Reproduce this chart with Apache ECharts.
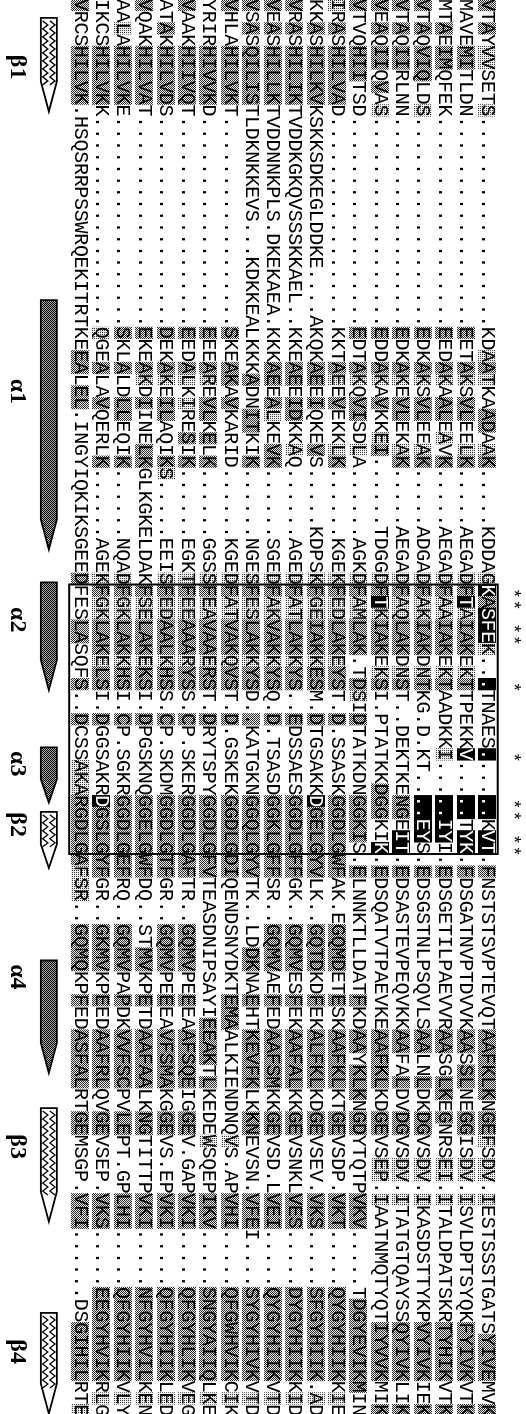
<!DOCTYPE html>
<html><head><meta charset="utf-8">
<script src="https://cdn.jsdelivr.net/npm/echarts@6/dist/echarts.min.js"></script>
<style>html,body{margin:0;padding:0;background:#fff}#c{width:526px;height:1414px}</style>
</head><body><div id="c"></div>
<script>
// ================= DATA =================
const D18 = "..................";
// aligned sequences, one per column (right = first), 121 alignment positions each
const sequences = [
 "VTAYVVSETS"+D18+"KDAATKAADAAK"+".....KDDAG"+"KASFEK...T"+"NAES......KVT"+".FNSTSTS"+"VPTEVQTAAFKLKNGEFS"+"DV.IESTSSSTGATSYIVEMVK",
 "MAVEMITLDN"+D18+"EETAKSVLEELK"+".....AEGAD"+"FTAIAKEKTT"+"PEKKV.....TYK"+".FDSGATN"+"VPTDVVKAASSLNEGGIS"+"DV.ISVLDPTSYQKFYIVKVTK",
 "MTAEIMQFEK"+D18+"EEDAKAALEAVK"+".....AEGAD"+"FAAIAKEKTA"+"ADKKI.....IYI"+".EDSGETI"+"LPAEVVRAASGLKEGNRS"+"EI.ITALDPATSKRTYHIKVTK",
 "VTAQVIQLDS"+D18+"EDKAKSVLEEAK"+".....ADGAD"+"FAKIAKDNTK"+"G.D.KT....EYS"+".EDSGSTN"+"LPSQVLSAALNLDKDGVS"+"DV.IKASDSTTYKPVYIVKIEK",
 "VTAQIIRLNN"+D18+"EDKAKEVLEKAK"+".....AEGAD"+"FAQLAKDNST"+"..DEKTKENGEIT"+".EDSASTE"+"VPEQVKKAAFALDVDGVS"+"DV.ITATGTQAYSSQYIVKLIK",
 "VEAQIIQVAS"+D18+"EDDAKAVKKEI."+".....TDGGD"+"FTKIAKEKSI"+".PTATKKDGGKIK"+".EDSQATV"+"TPAEVKEAAFKLKDGEVS"+"EP.IAATNMQTYQTIYVVKMIK",
 "VTVQHIITSD"+D18+"EDTAKQVISDLA"+"......AGKD"+"FAMLAK.TDS"+"IDTATKDNGGKIS"+".ELNNKTL"+"LDATFKDAAYKLKNGDYT"+"QTPVKV.....TDGYEVIKMIN",
 "IRASHILVAD"+D18+"KKTAEEVEKKLK"+"......KGEK"+"FEDLAKEYST"+".D.SSASKGGDLG"+"WFAK.EGQ"+"MDETESKAAFKLKTGEVS"+"DP.VKT.....QYGYHIIKKIE",
 "KKASHILKVK"+"SKKSDKEGLDDKE....A"+"KQKAEEIQKEVS"+".....KDPSK"+"FGEIAKKESM"+".DTGSAKKDGELG"+"YVLK..GQ"+"TDKDFEKALFKLKDGEVS"+"EV.VKS.....SFGYHIIK.AD",
 "VRASHILIKT"+"VDDKGKQVSSSKKAEL.."+"KKEAEEIDKKAQ"+"......AGED"+"FATLAKKYS."+".EDSSAESGGDLG"+"FFGK..GQ"+"MVESFEKAAFALKKGEVS"+"NKLVES.....DYGYHIIKKID",
 "VEASHILLKT"+"VDDNNKPLS.DKEKAEA."+"KKKAEEALKEVK"+"......SGED"+"FAKVAKKYSQ"+".D.TSASDGGKLG"+"FFSR..GQ"+"MVAEFEDAAFSMKKGEVS"+"D.LVEI.....QYGYHIIKVTD",
 "VSASQILIST"+"LDKNKKEVS...KDKKEA"+"LKKKADNITKIK"+"......NGES"+"FESLAKKYSD"+"..KATGKNGGQLG"+"YVTK..LD"+"DKNAEHTKEVFKLKKNEV"+"SN.VFEI....SYGYHIVKVTD",
 "VHLAHILVKT"+D18+"SKEAKAVKARID"+"......KGED"+"FATVAKQVST"+".D.GSKEKGGDLG"+"DIQENDSN"+"YDKTEMAALKIENDNQVS"+".APVHI.....QFGWHVIKCIK",
 "YRIRHIVVKD"+D18+"EEEAREVLKELK"+"......GGSS"+"FEAVAAERST"+".DRYTSPYGGDLG"+"FVTEASDN"+"IPSAYIEEAKTLKEDEWS"+"QEPIKV.....SNGYAIIQLKE",
 "VAAKHIIVQT"+D18+"EEDALKIRESIK"+"......EGKT"+"FEEAAARYSS"+".CP.SKERGGDLG"+"AFTR..GQ"+"MVPEEEAAFSQEIGGEV."+"GAPVKI.....QFGYHLIKVEG",
 "ATAKHILVDS"+D18+"DEKAKEILAQIK"+"S.....EEIS"+"FEDAALKHSS"+".CP.SKDMGGDLG"+"TFGR..GQ"+"MVPEEEAVFSMAKGGEVS"+".EPVKI.....QFGYHIIKLED",
 "VQAKHILVAT"+D18+"EKEAKDIINELK"+"GLKGKELDAK"+"FSELAKEKSI"+".DPGSKNQGGELG"+"WFDQ..ST"+"MVKPETDAAFAALKNGTI"+"TTPVKI.....NFGYHVILKEN",
 "AALAHILVKE"+D18+"SKLALDLLEQIK"+"......NQAD"+"FGKLAKKHSI"+".CP.SGKRGGDLG"+"EFRQ..GQ"+"MVPAPDKVVFSCPVLEPT"+".GPLHI.....QFGYHIIKVLY",
 "IKCSHILVKK"+D18+"QGEALAVQERLK"+"......AGEK"+"FGKLAKELSI"+".DGGSAKRDGSLG"+"YFGR..GK"+"MVKPEEDAAFRLQVGEVS"+"EP.VKS.....EEGYHVIKRLG",
 "VRCSHILVK."+"HSQSRRPSSWRQEKITRT"+"KEEALEL.INGY"+"IQKIKSGEED"+"FESLASQFS."+".DCSSAKARGDLG"+"AFSR..GQ"+"MQKPFEDASFALRTGEMS"+"GP.VFI......DSGIHILRTE"
];
// shading per residue: '-' none, 'l' light grey, 'd' dark grey, 'b' black
const N18 = "------------------";
const TE = "dlldddldd-", TF = "-d------ddddd", TG = "dd----dd", TH = "dd--d--ddddd--dd--", TI = "---ddd-----dddddddd-l-";
const shading = [
 "d-d-ll---l"+N18+"--ldl--dd-ld"+"---------l"+"bdbbbl--b-"+"----b---bb-bb"+"-d------"+"-------dddddd-ddl-"+"ll-l-----------dddd--d",
 "----dd----"+N18+"d--dl-dd--ld"+"---------l"+"dblddd-ld-"+"----b---bb-bb"+"-d------"+"-------dd-dd--dd--"+"ll-l----------ddddd--d",
 "--d-dd----"+N18+"d--dl-dd-l-d"+"---------l"+"dllddd-ld-"+"----l---bbbb-"+"-d------"+"-------dd--dd-d---"+"ll-l----------ddddd--d",
 "d-d-ddd--l"+N18+"d--dl-dd--ld"+"---------l"+"dllddd-ld-"+"--------bbbb-"+"-d------"+"-------dd--d--dd--"+"ll-l----------ddddd--d",
 "d-d-dd----"+N18+"d--dl-dd--ld"+"---------l"+"dllddd-ld-"+"--------dd-bb"+"-d------"+"-------dd--d--dd--"+"ll-l----------ddddd--d",
 "d-d-dd-d-l"+N18+"d--dl-d--ld-"+"---------l"+"dblddd-ld-"+"-------ddd--b"+"-d------"+"-------ddddd--dd--"+"ll-l----------ddddd--d",
 "d---ddd---"+N18+"d--dl-dd--l-"+"---------l"+"dllddd--dl"+"-d------dddd-"+"-d------"+"----d--dd-ddd-dd--"+"---ddd------dddddddd--",
 "l-d-ddddd-"+N18+"---dl-d---ld"+"---------l"+TE+TF+TG+TH+TI,
 "--d-ddddd-"+N18+"---dd-d---d-"+"---------l"+TE+"-d------bdddd"+TG+TH+TI,
 "d-d-ddddd-"+N18+"---dd-dd--l-"+"---------l"+TE+TF+TG+TH+TI,
 "d-d-ddddd-"+N18+"---dd-dl--dd"+"---------l"+TE+TF+TG+TH+TI,
 "d-d-ddddd-"+N18+"----d--dd--d"+"---------l"+TE+TF+"dd------"+TH+TI,
 "d---ddddd-"+N18+"d--dd-d-----"+"---------l"+TE+TF+"dd------"+"----ddd---------l-"+TI,
 "----ddddd-"+N18+"d--dl-dd-d-d"+"---------l"+TE+TF+"dd------"+"------dddd-d----l-"+TI,
 "d---ddddd-"+N18+"d--dl-l--d-d"+"---------l"+TE+TF+TG+TH+TI,
 "--d-ddddd-"+N18+"d--dl-dd---d"+"l--------l"+TE+TF+TG+TH+TI,
 "d---ddddd-"+N18+"d--dl-d---dd"+"----------"+TE+TF+"dd------"+TH+TI,
 "--l-ddddd-"+N18+"d--d--dd---d"+"---------l"+TE+TF+TG+TH+TI,
 "----ddddd-"+N18+"l--d--d----d"+"---------l"+TE+"-d------bdddd"+TG+TH+TI,
 "d---ddddd-"+N18+"--dd-dd-----"+"---------d"+"---dd---d-"+"-d---lllddddd"+"dlll--dd"+TH+"---ddd--------ddddd--l"
];
// boxed region (alignment positions)
const boxRows = [49.5, 72.5];
// positions marked with '*'
const starRows = [50, 51, 53, 54, 58, 64, 68, 69, 71, 72];
// secondary structure: name, kind, start, end, label position (alignment positions)
const ssNames  = ["β1","α1","α2","α3","β2","α4","β3","β4"];
const ssKinds  = ["strand","helix","helix","helix","strand","helix","strand","strand"];
const ssStart  = [1.1, 25.2, 49.3, 63.4, 68.9, 81.6, 94.2, 111.7];
const ssEnd    = [9.1, 46.5, 58.5, 68.1, 73.7, 91.2, 103.9, 120.3];
const ssLabel  = [5.3, 33.0, 52.5, 64.8, 70.0, 83.0, 97.5, 115.0];

// ================= STYLE =================
function makePattern(size, fn) {
  const cv = document.createElement('canvas');
  cv.width = size; cv.height = size;
  const ctx = cv.getContext('2d');
  const img = ctx.createImageData(size, size);
  for (let y = 0; y < size; y++) for (let x = 0; x < size; x++) {
    const v = fn(x, y); const o = (y * size + x) * 4;
    img.data[o] = img.data[o + 1] = img.data[o + 2] = v; img.data[o + 3] = 255;
  }
  ctx.putImageData(img, 0, 0);
  return { image: cv, repeat: 'repeat' };
}
const DARK_PAT  = makePattern(2, (x, y) => ((x + y) % 2 ? 235 : 45));
const LIGHT_PAT = makePattern(4, (x, y) => (((x + y) % 2 === 0 && y % 2 === 0) ? 60 : 238));
const HELIX_PAT = makePattern(2, (x, y) => ((x + y) % 2 ? 170 : 0));
const SHADE = { l: LIGHT_PAT, d: DARK_PAT, b: '#000000' };
const CELL_W = 18;
const LETTER_FONT = '20px "Liberation Mono"';
const STAR_X = -0.2, SS_X = 21.45, SS_LABEL_X = 22.95;

// ================= BUILD =================
const cells = [];
sequences.forEach((s, i) => {
  const sh = shading[i];
  for (let r = 0; r < s.length; r++) cells.push({ x: i + 1, r: r, ch: s[r], sh: sh[r] || '-' });
});

const chart = echarts.init(document.getElementById('c'), null, { renderer: 'canvas', width: 526, height: 1414 });

function zigzag(cx, y0, y1, amp, step) {
  const pts = []; let k = 0;
  for (let y = y0; y <= y1; y += step, k++) pts.push([cx + (k % 2 ? amp : -amp), y]);
  return pts;
}

chart.setOption({
  animation: false,
  backgroundColor: '#ffffff',
  grid: { left: 0, right: 0, top: 0, bottom: 0 },
  xAxis: { type: 'value', min: -0.82, max: 23.73, inverse: true, show: false },
  yAxis: { type: 'value', min: -0.427, max: 120.33, inverse: true, show: false },
  series: [
    {
      type: 'custom', name: 'alignment', clip: false,
      data: cells.map(c => [c.x, c.r]),
      renderItem: function (params, api) {
        const c = cells[params.dataIndex];
        const p = api.coord([api.value(0), api.value(1)]);
        const h = api.size([0, 1])[1];
        const kids = [];
        if (c.sh !== '-') {
          kids.push({ type: 'rect', shape: { x: Math.round(p[0] - CELL_W / 2), y: p[1] - h / 2 - 0.3, width: CELL_W, height: h + 0.6 },
                      style: { fill: SHADE[c.sh] } });
        }
        kids.push({ type: 'text', x: p[0], y: p[1], rotation: -Math.PI / 2,
                    style: { text: c.ch, fill: c.sh === 'b' ? '#ffffff' : '#000000', font: LETTER_FONT,
                             align: 'center', verticalAlign: 'middle', textAlign: 'center', textVerticalAlign: 'middle' } });
        return { type: 'group', children: kids };
      }
    },
    {
      type: 'custom', name: 'box', clip: false,
      data: [boxRows],
      renderItem: function (params, api) {
        const a = api.coord([0.5, api.value(0)]);
        const b = api.coord([20.5, api.value(1)]);
        return { type: 'rect', shape: { x: Math.min(a[0], b[0]), y: a[1], width: Math.abs(a[0] - b[0]), height: b[1] - a[1] },
                 style: { fill: 'none', stroke: '#000', lineWidth: 2 } };
      }
    },
    {
      type: 'custom', name: 'stars', clip: false,
      data: starRows.map(r => [STAR_X, r]),
      renderItem: function (params, api) {
        const p = api.coord([api.value(0), api.value(1)]);
        return { type: 'text', x: p[0], y: p[1] + 3, rotation: -Math.PI / 2,
                 style: { text: '*', fill: '#000', font: '18px "Liberation Mono"', align: 'center', verticalAlign: 'middle',
                          textAlign: 'center', textVerticalAlign: 'middle' } };
      }
    },
    {
      type: 'custom', name: 'structure', clip: false,
      data: ssNames.map((n, i) => [SS_X, ssStart[i], ssEnd[i], ssLabel[i]]),
      renderItem: function (params, api) {
        const i = params.dataIndex;
        const top = api.coord([api.value(0), api.value(1)]);
        const bot = api.coord([api.value(0), api.value(2)]);
        const lab = api.coord([SS_LABEL_X, api.value(3)]);
        const cx = top[0], y0 = top[1], y1 = bot[1];
        const w = 8, len = y1 - y0;
        const head = Math.min(30, len * 0.42);
        const yh = y1 - head;
        const poly = [[cx - w, y0], [cx + w, y0], [cx + w, yh], [cx, y1], [cx - w, yh]];
        const kids = [];
        if (ssKinds[i] === 'helix') {
          kids.push({ type: 'polygon', shape: { points: poly }, style: { fill: HELIX_PAT, stroke: '#000', lineWidth: 1.8 } });
        } else {
          kids.push({ type: 'polygon', shape: { points: poly }, style: { fill: '#fff', stroke: '#000', lineWidth: 1.8 } });
          kids.push({ type: 'polyline', shape: { points: zigzag(cx - 3.6, y0 + 3, yh + 6, 2.6, 4) }, style: { fill: null, stroke: '#000', lineWidth: 1.3 } });
          kids.push({ type: 'polyline', shape: { points: zigzag(cx + 3.6, y0 + 3, yh + 6, 2.6, 4) }, style: { fill: null, stroke: '#000', lineWidth: 1.3 } });
        }
        kids.push({ type: 'text', x: lab[0], y: lab[1], rotation: -Math.PI / 2,
                    style: { text: ssNames[i], fill: '#000', font: 'bold 24px "Liberation Serif"', align: 'center', verticalAlign: 'middle',
                             textAlign: 'center', textVerticalAlign: 'middle' } });
        return { type: 'group', children: kids };
      }
    }
  ]
});
</script>
</body></html>
